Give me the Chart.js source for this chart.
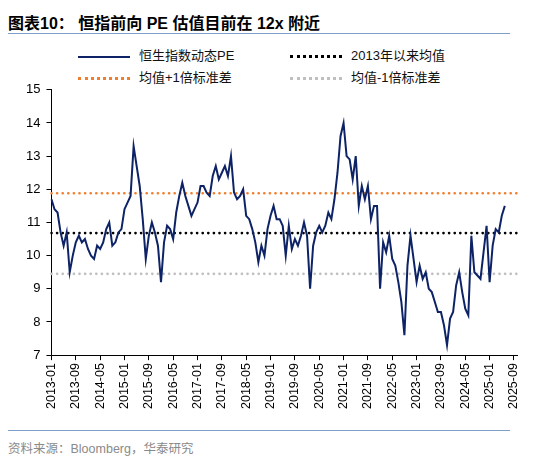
<!DOCTYPE html>
<html>
<head>
<meta charset="utf-8">
<script src="https://cdn.jsdelivr.net/npm/chart.js@4"></script>
<style>
  body { margin: 0; width: 550px; height: 465px; background: #fff; font-family: "Liberation Sans", Arial, "Noto Sans CJK SC", sans-serif; position: relative; overflow: hidden; }
  #title { position: absolute; left: 8px; top: 10px; font-size: 16px; font-weight: bold; color: #000; font-family: "Liberation Sans", "Noto Sans CJK SC", sans-serif; }
  .rule { position: absolute; left: 8px; width: 502px; height: 1px; background: #7f9fc9; }
  #legend { position: absolute; left: 78px; top: 45px; font-size: 13px; color: #111; }
  .item { position: absolute; white-space: nowrap; font-family: "Liberation Sans", "Noto Sans CJK SC", sans-serif; }
  .sw { display: inline-block; width: 52px; vertical-align: middle; margin-right: 9px; }
  #src { position: absolute; left: 8px; top: 438px; font-size: 12.5px; color: #8a8a8a; font-family: "Liberation Sans", "Noto Sans CJK SC", sans-serif; }
  #wrap { position: absolute; left: 0; top: 76px; width: 545px; height: 336px; }
</style>
</head>
<body>
<div id="title">图表10：&nbsp;恒指前向 PE 估值目前在 12x 附近</div>
<div class="rule" style="top:33px"></div>
<div id="legend">
  <div class="item" style="left:0;top:0"><span class="sw" style="border-top:2px solid #0d2366"></span>恒生指数动态PE</div>
  <div class="item" style="left:212px;top:0"><span class="sw" style="border-top:3px dotted #000"></span>2013年以来均值</div>
  <div class="item" style="left:0;top:22px"><span class="sw" style="border-top:3px dotted #f07f2d"></span>均值+1倍标准差</div>
  <div class="item" style="left:212px;top:22px"><span class="sw" style="border-top:3px dotted #bfbfbf"></span>均值-1倍标准差</div>
</div>
<div id="wrap"><canvas id="c"></canvas></div>
<div class="rule" style="top:430px"></div>
<div id="src">资料来源：Bloomberg，华泰研究</div>
<script>
// monthly forward PE, 2013-01 onward
const peValues = [
  11.7, 11.4, 11.3, 10.7, 10.3, 10.7, 9.5, 10.0, 10.4, 10.6, 10.4, 10.5,
  10.2, 10.0, 9.9, 10.3, 10.2, 10.4, 10.8, 11.0, 10.3, 10.4, 10.7, 10.8,
  11.4, 11.6, 11.8, 13.3, 12.7, 12.1, 11.1, 9.9, 10.6, 11.0, 10.7, 10.3,
  9.2, 10.4, 10.9, 10.8, 10.5, 11.3, 11.8, 12.2, 11.8, 11.5, 11.2, 11.4,
  11.6, 12.1, 12.1, 11.9, 11.8, 12.4, 12.7, 12.3, 12.5, 12.7, 12.4, 13.0,
  11.9, 11.7, 11.8, 12.0, 11.2, 11.1, 10.8, 10.4, 9.8, 10.3, 10.0, 10.8,
  11.2, 11.5, 11.1, 11.1, 10.9, 10.0, 10.9, 10.2, 10.5, 10.3, 10.6, 11.0,
  10.6, 9.0, 10.3, 10.7, 10.9, 10.7, 10.9, 11.3, 11.1, 11.7, 12.5, 13.6,
  14.0, 13.0, 12.9, 12.3, 13.0, 11.5, 12.1, 11.7, 12.1, 11.1, 11.5, 11.5,
  9.0, 10.4, 10.1, 10.6, 9.9, 9.7, 9.2, 8.6, 7.6, 9.7, 10.6, 9.9,
  9.2, 9.7, 9.3, 9.5, 9.0, 8.9, 8.6, 8.3, 8.3, 7.9, 7.3, 8.1,
  8.3, 9.1, 9.5, 8.9, 8.4, 8.2, 10.6, 9.5, 9.4, 9.3, 10.1, 10.9,
  9.2, 10.3, 10.8, 10.7, 11.2, 11.5
];
const meanPE = 10.68;
const plusOneSd = 11.88;
const minusOneSd = 9.45;
const yTicks = [7, 8, 9, 10, 11, 12, 13, 14, 15];

const months = [];
for (let i = 0; i < 154; i++) {
  const y = 2013 + Math.floor(i / 12), m = (i % 12) + 1;
  months.push(y + "-" + String(m).padStart(2, "0"));
}
const n = months.length;
const pad = (arr) => arr.concat(Array(n - arr.length).fill(null));

new Chart(document.getElementById("c"), {
  type: "line",
  data: {
    labels: months,
    datasets: [
      { data: pad(peValues), borderColor: "#0d2366", borderWidth: 2, pointRadius: 0, tension: 0, order: 0 },
      { data: Array(n).fill(meanPE), borderColor: "#000", borderWidth: 2.6, borderDash: [0.1, 5.5], borderCapStyle: "round", pointRadius: 0, order: 1 },
      { data: Array(n).fill(plusOneSd), borderColor: "#f07f2d", borderWidth: 2.6, borderDash: [0.1, 5.5], borderCapStyle: "round", pointRadius: 0, order: 1 },
      { data: Array(n).fill(minusOneSd), borderColor: "#bfbfbf", borderWidth: 2.6, borderDash: [0.1, 5.5], borderCapStyle: "round", pointRadius: 0, order: 1 }
    ]
  },
  options: {
    responsive: true,
    maintainAspectRatio: false,
    animation: false,
    layout: { padding: { left: 20, right: 28, top: 0 } },
    plugins: { legend: { display: false }, tooltip: { enabled: false } },
    scales: {
      x: {
        offset: false,
        border: { color: "#000", width: 1 },
        grid: {
          drawOnChartArea: false, tickLength: 5,
          color: (ctx) => (ctx.index % 8 === 0 ? "#000" : "rgba(0,0,0,0)")
        },
        ticks: {
          autoSkip: false, maxRotation: 90, minRotation: 90, color: "#000",
          font: { size: 12.5, family: "Liberation Sans" },
          callback: function (v, i) { return i % 8 === 0 ? months[i] : ""; }
        }
      },
      y: {
        min: yTicks[0], max: yTicks[yTicks.length - 1],
        afterBuildTicks: (s) => { s.ticks = yTicks.map((v) => ({ value: v })); },
        border: { color: "#000", width: 1 },
        grid: { drawOnChartArea: false, tickLength: 5, color: "#000" },
        ticks: { color: "#000", font: { size: 13, family: "Liberation Sans" }, padding: 6 }
      }
    }
  }
});
</script>
</body>
</html>
